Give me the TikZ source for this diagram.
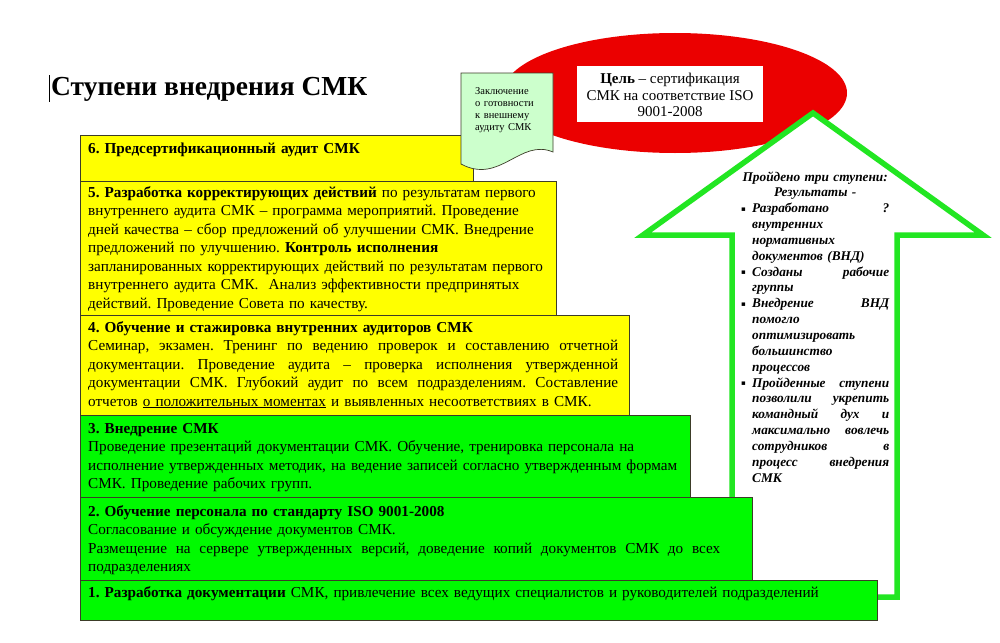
\documentclass[tikz,border=0pt]{standalone}
\usepackage{fontspec}
\setmainfont{Liberation Serif}
\newfontfamily\symfont{DejaVu Sans}
\definecolor{boxyellow}{RGB}{255,255,0}
\definecolor{boxgreen}{RGB}{0,250,0}
\definecolor{arrowgreen}{RGB}{34,230,34}
\definecolor{goalred}{RGB}{235,0,0}
\definecolor{notegreen}{RGB}{204,255,204}
\definecolor{edgegray}{RGB}{60,60,40}
\newcommand\bxfont{\fontsize{15.2}{18.5}\selectfont}
\newcommand\arfont{\fontsize{13.3}{15.85}\selectfont\bfseries\itshape}
\newcommand\bul{\makebox[11pt][l]{\symfont\fontsize{7}{8}\selectfont\raisebox{1.5pt}{▪}}}
\newcommand\ind{\hspace*{11pt}}
\newcommand\jline[2]{\leavevmode{\spaceskip=\fontdimen2\font plus 1fil\relax\hbox to #1{#2}}}
\frenchspacing
\tikzset{
  stepbox/.style={draw=edgegray, line width=0.8pt, anchor=north west, inner sep=0pt},
  yel/.style={stepbox, fill=boxyellow},
  grn/.style={stepbox, fill=boxgreen},
  txt/.style={inner sep=0pt, anchor=base west, align=left, text width=800pt, font=\bxfont},
}
\begin{document}
\begin{tikzpicture}[x=1pt,y=-1pt]
\useasboundingbox (0,0) rectangle (1000,642);
\fill[white] (0,0) rectangle (1000,642);
% goal ellipse
\fill[goalred] (675,93) ellipse [x radius=172pt, y radius=60pt];
% arrow
\draw[arrowgreen, line width=5.5pt, fill=white, line join=miter]
  (813,113) -- (983,235) -- (897,235) -- (897,597) -- (732,597) -- (732,235) -- (643,235) -- cycle;
% goal box
\node[fill=white, minimum width=186pt, minimum height=56pt, inner sep=0pt] (goalbox) at (670,94) {};
\node[inner sep=0pt, align=center, font=\fontsize{15}{16.5}\selectfont] (goal) at (670,95)
  {\textbf{Цель} – сертификация\\СМК на соответствие ISO\\9001-2008};
% title
\node[inner sep=0pt, anchor=base west, font=\fontsize{27.5}{30}\selectfont\bfseries] (title) at (51,95) {Ступени внедрения СМК};
\draw[line width=1pt] (49,75) -- (49,102);
% step boxes
\node[yel, minimum width=393pt, minimum height=46pt] (b6) at (80,135) {};
\node[yel, minimum width=476pt, minimum height=134pt] (b5) at (80,181) {};
\node[yel, minimum width=549pt, minimum height=100pt] (b4) at (80,315) {};
\node[grn, minimum width=610pt, minimum height=82pt] (b3) at (80,415) {};
\node[grn, minimum width=672pt, minimum height=83pt] (b2) at (80,497) {};
\node[grn, minimum width=797pt, minimum height=40pt] (b1) at (80,580) {};
\node[txt] (t6) at (88,153) {\textbf{6. Предсертификационный аудит СМК}};
\node[txt] (t5) at (88,197) {\textbf{5. Разработка корректирующих действий} по результатам первого\\
внутреннего аудита СМК – программа мероприятий. Проведение\\
дней качества – сбор предложений об улучшении СМК. Внедрение\\
предложений по улучшению. \textbf{Контроль исполнения}\\
запланированных корректирующих действий по результатам первого\\
внутреннего аудита СМК.\ \ Анализ эффективности предпринятых\\
действий. Проведение Совета по качеству.};
\node[txt] (t4) at (88,332) {\textbf{4. Обучение и стажировка внутренних аудиторов СМК}\\
\jline{530pt}{Семинар, экзамен. Тренинг по ведению проверок и составлению отчетной}\\
\jline{530pt}{документации. Проведение аудита – проверка исполнения утвержденной}\\
\jline{530pt}{документации СМК. Глубокий аудит по всем подразделениям. Составление}\\
отчетов \underline{о положительных моментах} и выявленных несоответствиях в СМК.};
\node[txt] (t3) at (88,433) {\textbf{3. Внедрение СМК}\\
Проведение презентаций документации СМК. Обучение, тренировка персонала на\\
исполнение утвержденных методик, на ведение записей согласно утвержденным формам\\
СМК. Проведение рабочих групп.};
\node[txt] (t2) at (88,516) {\textbf{2. Обучение персонала по стандарту ISO 9001-2008}\\
Согласование и обсуждение документов СМК.\\
\jline{632pt}{Размещение на сервере утвержденных версий, доведение копий документов СМК до всех}\\
подразделениях};
\node[txt] (t1) at (88,597) {\textbf{1. Разработка документации} СМК, привлечение всех ведущих специалистов и руководителей подразделений};
% note (document shape)
\draw[edgegray, line width=0.7pt, fill=notegreen]
  (461,73) -- (553,73) -- (553,152) .. controls (520,138) and (500,185) .. (461,164) -- cycle;
\node[inner sep=0pt, anchor=base west, align=left, text width=75pt, font=\fontsize{10.5}{12.1}\selectfont] (note) at (475,94)
  {Заключение\\о готовности\\к внешнему\\аудиту СМК};
% results text inside arrow
\node[inner sep=0pt, anchor=base west, align=left, text width=148pt, font=\arfont] (res) at (741,181) {%
\makebox[148pt][c]{Пройдено три ступени:}\\
\makebox[148pt][c]{Результаты -}\\
\bul Разработано\hfill ?\\
\ind внутренних\\
\ind нормативных\\
\ind документов (ВНД)\\
\bul Созданы\hfill рабочие\\
\ind группы\\
\bul Внедрение\hfill ВНД\\
\ind помогло\\
\ind оптимизировать\\
\ind большинство\\
\ind процессов\\
\bul Пройденные\hfill ступени\\
\ind позволили\hfill укрепить\\
\ind командный\hfill дух\hfill и\\
\ind максимально\hfill вовлечь\\
\ind сотрудников\hfill в\\
\ind процесс\hfill внедрения\\
\ind СМК};
\end{tikzpicture}
\end{document}
